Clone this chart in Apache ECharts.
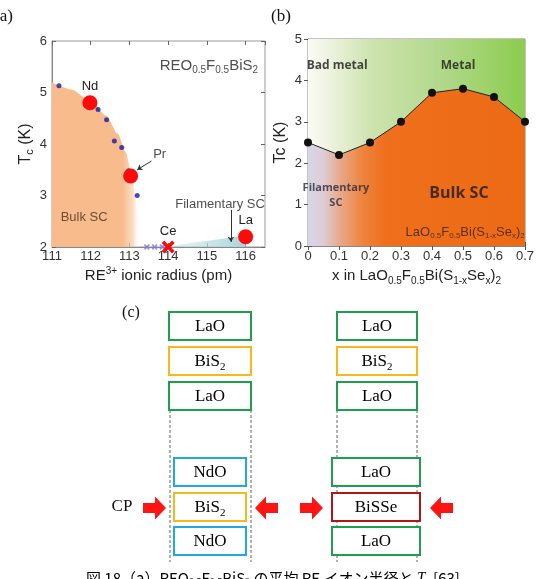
<!DOCTYPE html>
<html><head><meta charset="utf-8">
<script src="https://cdn.jsdelivr.net/npm/echarts@6/dist/echarts.min.js"></script>
<style>html,body{margin:0;padding:0;background:#fff;}#c{width:540px;height:579px;}</style>
</head><body><div id="c"></div>
<script>
// ---------- Panel (a) data ----------
const aXTicks = [111, 112, 113, 114, 115, 116];
const aYTicks = [2, 3, 4, 5, 6];
const aBlueX = [111.18, 112.19, 112.41, 112.61, 112.8, 112.98, 113.2];
const aBlueY = [5.13, 4.67, 4.47, 4.06, 3.93, 3.48, 3.0];
const aRedNames = ['Nd', 'Pr', 'La'];
const aRedX = [111.98, 113.03, 116.0];
const aRedY = [4.8, 3.38, 2.2];
const aCeX = [114.0];
const aCeY = [2.0];
const aNonSCX = [113.45, 113.65, 113.85];
const aNonSCY = [2.0, 2.0, 2.0];
const aBulkEdgeX = [111, 111.5, 112, 112.4, 112.7, 112.9, 113.05, 113.15, 113.22, 113.28];
const aBulkEdgeY = [5.2, 5.06, 4.83, 4.55, 4.2, 3.85, 3.45, 3.0, 2.5, 2.0];
const aFilX = [113.8, 116.0];
const aFilY = [2.0, 2.22];

// ---------- Panel (b) data ----------
const bX = [0, 0.1, 0.2, 0.3, 0.4, 0.5, 0.6, 0.7];
const bTc = [2.5, 2.2, 2.5, 3.0, 3.7, 3.8, 3.6, 3.0];

// ---------- Panel (c) layers ----------
const cLeftTop = ['LaO', 'BiS2', 'LaO'];
const cLeftBottom = ['NdO', 'BiS2', 'NdO'];
const cRightTop = ['LaO', 'BiS2', 'LaO'];
const cRightBottom = ['LaO', 'BiSSe', 'LaO'];

const SANS = '"Liberation Sans", Arial, sans-serif';
const SERIF = '"Liberation Serif", "Times New Roman", serif';
const BOLD = '"Open Sans", "Noto Sans", sans-serif';

function richFor(color, size) {
  return {
    sub: { fontSize: Math.round(size * 0.65), padding: [size * 0.6, 0, 0, 0], fontFamily: SANS, color: color },
    sup: { fontSize: Math.round(size * 0.65), padding: [0, 0, size * 0.6, 0], fontFamily: SANS, color: color }
  };
}

function textSeries(xi, yi, items) {
  return {
    type: 'scatter', xAxisIndex: xi, yAxisIndex: yi, symbolSize: 1, silent: true, z: 20,
    itemStyle: { color: 'transparent' },
    data: items.map(it => ({
      value: [it.x, it.y],
      label: {
        show: true, position: 'inside', formatter: it.t,
        fontSize: it.size || 13, fontFamily: it.font || SANS, fontWeight: it.weight || 'normal',
        color: it.color || '#222', lineHeight: it.lh || undefined,
        rich: richFor(it.color || '#222', it.size || 13)
      }
    }))
  };
}

const axisLbl = { color: '#333', fontSize: 13, fontFamily: SANS };

const option = {
  animation: false,
  backgroundColor: '#fff',
  grid: [
    { left: 52, top: 41, width: 213, height: 206, show: true, borderColor: '#999', borderWidth: 1, backgroundColor: 'transparent' },
    { left: 308, top: 39, width: 217, height: 207, show: true, borderColor: '#888', borderWidth: 1, backgroundColor: 'transparent' }
  ],
  xAxis: [
    { gridIndex: 0, type: 'value', min: 111, max: 116.5, interval: 1,
      axisLine: { lineStyle: { color: '#888' } },
      axisTick: { inside: true, length: 4, lineStyle: { color: '#666' } },
      axisLabel: Object.assign({ margin: 3, showMaxLabel: false, formatter: v => aXTicks.includes(v) ? String(v) : '' }, axisLbl),
      splitLine: { show: false },
      name: '{n|RE}{sup|3+}{n| ionic radius (pm)}', nameLocation: 'middle', nameGap: 19,
      nameTextStyle: { fontSize: 15, fontFamily: SANS, color: '#222',
        rich: { n: { fontSize: 15, fontFamily: SANS, color: '#222' }, sup: { fontSize: 10, fontFamily: SANS, color: '#222', padding: [0, 0, 9, 0] } } } },
    { gridIndex: 0, type: 'value', position: 'top', min: 111, max: 116.5, interval: 1,
      axisLine: { show: false }, axisTick: { inside: true, length: 4, lineStyle: { color: '#666' } },
      axisLabel: { show: false }, splitLine: { show: false } },
    { gridIndex: 1, type: 'value', min: 0, max: 0.7, interval: 0.1,
      axisLine: { lineStyle: { color: '#888' } },
      axisTick: { inside: true, length: 4, lineStyle: { color: '#555' } },
      axisLabel: Object.assign({ margin: 4, formatter: v => (Math.round(v * 10) / 10).toString() }, axisLbl),
      splitLine: { show: false },
      name: '{n|x in LaO}{sub|0.5}{n|F}{sub|0.5}{n|Bi(S}{sub|1-x}{n|Se}{sub|x}{n|)}{sub|2}', nameLocation: 'middle', nameGap: 20,
      nameTextStyle: { fontSize: 15, fontFamily: SANS, color: '#222',
        rich: { n: { fontSize: 15, fontFamily: SANS, color: '#222' }, sub: { fontSize: 10, fontFamily: SANS, color: '#222', padding: [10, 0, 0, 0] } } } },
    { gridIndex: 1, type: 'value', position: 'top', min: 0, max: 0.7, interval: 0.1,
      axisLine: { show: false }, axisTick: { inside: true, length: 4, lineStyle: { color: '#555' } },
      axisLabel: { show: false }, splitLine: { show: false } }
  ],
  yAxis: [
    { gridIndex: 0, type: 'value', min: 2, max: 6, interval: 1,
      axisLine: { lineStyle: { color: '#888' } },
      axisTick: { inside: true, length: 4, lineStyle: { color: '#666' } },
      axisLabel: Object.assign({ margin: 5 }, axisLbl), splitLine: { show: false },
      name: '{n|T}{sub|c}{n| (K)}', nameLocation: 'middle', nameGap: 16, nameRotate: 90,
      nameTextStyle: { fontSize: 16, fontFamily: SANS, color: '#222',
        rich: { n: { fontSize: 16, fontFamily: SANS, color: '#222' }, sub: { fontSize: 11, fontFamily: SANS, color: '#222', padding: [9, 0, 0, 0] } } } },
    { gridIndex: 0, type: 'value', position: 'right', min: 2, max: 6, interval: 1,
      axisLine: { show: false }, axisTick: { inside: true, length: 4, lineStyle: { color: '#666' } },
      axisLabel: { show: false }, splitLine: { show: false } },
    { gridIndex: 1, type: 'value', min: 0, max: 5, interval: 1,
      axisLine: { lineStyle: { color: '#888' } },
      axisTick: { inside: true, length: 4, lineStyle: { color: '#555' } },
      axisLabel: Object.assign({ margin: 6 }, axisLbl), splitLine: { show: false },
      name: 'Tc (K)', nameLocation: 'middle', nameGap: 19, nameRotate: 90,
      nameTextStyle: { fontSize: 16, fontFamily: SANS, color: '#222' } },
    { gridIndex: 1, type: 'value', position: 'right', min: 0, max: 5, interval: 1,
      axisLine: { show: false }, axisTick: { inside: true, length: 4, lineStyle: { color: '#555' } },
      axisLabel: { show: false }, splitLine: { show: false } }
  ],
  series: [
    // ----- (a) bulk SC region -----
    { type: 'line', xAxisIndex: 0, yAxisIndex: 0, silent: true, z: 1,
      data: aBulkEdgeX.map((x, i) => [x, aBulkEdgeY[i]]),
      smooth: 0.25, smoothMonotone: 'x', symbol: 'none', lineStyle: { width: 0 },
      areaStyle: { opacity: 1, color: new echarts.graphic.LinearGradient(0, 0, 1, 0, [
        { offset: 0, color: '#f8bb8c' }, { offset: 0.8, color: '#f8bb8c' },
        { offset: 0.92, color: 'rgba(248,200,160,0.6)' }, { offset: 1, color: 'rgba(255,255,255,0)' }]) } },
    // ----- (a) filamentary SC region -----
    { type: 'line', xAxisIndex: 0, yAxisIndex: 0, silent: true, z: 1,
      data: aFilX.map((x, i) => [x, aFilY[i]]),
      symbol: 'none', lineStyle: { width: 0 },
      areaStyle: { opacity: 1, color: new echarts.graphic.LinearGradient(0, 0, 1, 0, [
        { offset: 0, color: 'rgba(200,228,232,0.3)' }, { offset: 1, color: '#a8d5da' }]) } },
    // ----- (a) non-SC crosses -----
    { type: 'scatter', xAxisIndex: 0, yAxisIndex: 0, z: 5,
      data: aNonSCX.map((x, i) => [x, aNonSCY[i]]),
      symbol: 'path://M0,2L2,0L5,3L8,0L10,2L7,5L10,8L8,10L5,7L2,10L0,8L3,5Z', symbolSize: 6,
      itemStyle: { color: '#7a7ae6' } },
    // ----- (a) blue points -----
    { type: 'scatter', xAxisIndex: 0, yAxisIndex: 0, z: 5,
      data: aBlueX.map((x, i) => [x, aBlueY[i]]),
      symbol: 'circle', symbolSize: 5, itemStyle: { color: '#1a1aa8' } },
    // ----- (a) red circles -----
    { type: 'scatter', xAxisIndex: 0, yAxisIndex: 0, z: 6,
      data: aRedX.map((x, i) => ({ value: [x, aRedY[i]], name: aRedNames[i] })),
      symbol: 'circle', symbolSize: 15, itemStyle: { color: '#ff0a0a', opacity: 1 },
      label: { show: true, position: 'top', distance: 2, fontSize: 13, fontFamily: SANS, color: '#222',
        formatter: p => p.name === 'Pr' ? '' : p.name } },
    // ----- (a) Ce cross -----
    { type: 'scatter', xAxisIndex: 0, yAxisIndex: 0, z: 7,
      data: aCeX.map((x, i) => ({ value: [x, aCeY[i]], name: 'Ce' })),
      symbol: 'path://M0,2L2,0L5,3L8,0L10,2L7,5L10,8L8,10L5,7L2,10L0,8L3,5Z', symbolSize: 13,
      itemStyle: { color: '#ee1111', opacity: 1 },
      label: { show: true, position: 'top', distance: 3, fontSize: 13, fontFamily: SANS, color: '#222', formatter: '{b}' } },
    // ----- (a) annotation arrows -----
    { type: 'lines', coordinateSystem: 'cartesian2d', xAxisIndex: 0, yAxisIndex: 0, z: 8, silent: true,
      symbol: ['none', 'arrow'], symbolSize: 5,
      lineStyle: { color: '#333', width: 1, opacity: 1 },
      data: [ { coords: [[113.57, 3.67], [113.2, 3.5]] }, { coords: [[115.62, 2.72], [115.62, 2.1]] } ] },
    textSeries(0, 0, [
      { x: 113.78, y: 3.79, t: 'Pr' },
      { x: 115.34, y: 2.83, t: 'Filamentary SC' },
      { x: 111.83, y: 2.58, t: 'Bulk SC', color: '#4a3020' },
      { x: 115.05, y: 5.52, t: 'REO{sub|0.5}F{sub|0.5}BiS{sub|2}', size: 15 }
    ]),
    // ----- (b) metal background -----
    { type: 'line', xAxisIndex: 2, yAxisIndex: 2, silent: true, z: 1,
      data: [[bX[0], 5], [bX[bX.length - 1], 5]], symbol: 'none', lineStyle: { width: 0 },
      areaStyle: { opacity: 1, color: new echarts.graphic.LinearGradient(0, 0, 1, 0, [
        { offset: 0, color: '#fbfbf5' }, { offset: 0.08, color: '#f0f4e4' },
        { offset: 0.3, color: '#cde3ad' }, { offset: 0.6, color: '#b3d98d' }, { offset: 1, color: '#8ccc4e' }]) } },
    // ----- (b) Tc curve and SC region -----
    { type: 'line', xAxisIndex: 2, yAxisIndex: 2, z: 3,
      data: bX.map((x, i) => [x, bTc[i]]),
      symbol: 'circle', symbolSize: 8, itemStyle: { color: '#111' },
      lineStyle: { color: '#222', width: 1 },
      areaStyle: { opacity: 1, color: new echarts.graphic.LinearGradient(0, 0, 1, 0, [
        { offset: 0, color: '#d6d7e6' }, { offset: 0.07, color: '#ddcdd6' },
        { offset: 0.15, color: '#e8a888' }, { offset: 0.25, color: '#ee843e' },
        { offset: 0.36, color: '#ef6f1c' }, { offset: 1, color: '#ec6a14' }]) } },
    textSeries(2, 2, [
      { x: 0.094, y: 4.37, t: 'Bad metal', font: BOLD, weight: 'bold', size: 12, color: '#1a1a1a' },
      { x: 0.484, y: 4.37, t: 'Metal', font: BOLD, weight: 'bold', size: 12, color: '#1a1a1a' },
      { x: 0.09, y: 1.22, t: 'Filamentary\nSC', font: BOLD, weight: 'bold', size: 11, color: '#2a2a3a', lh: 15 },
      { x: 0.487, y: 1.26, t: 'Bulk SC', font: BOLD, weight: 'bold', size: 16, color: '#1a1a1a' },
      { x: 0.507, y: 0.34, t: 'LaO{sub|0.5}F{sub|0.5}Bi(S{sub|1-x}Se{sub|x})' + '{sub|2}', size: 13, color: '#3a1e0a' }
    ])
  ],
  graphic: []
};

// ---------- Panel (c) diagram (graphic elements) ----------
const COL = { LaO: '#1f9e50', BiS2: '#f7b71e', NdO: '#1fa9e0', BiSSe: '#b01616' };
function layerText(name) {
  if (name === 'BiS2') return '{n|BiS}{s|2}';
  return '{n|' + name + '}';
}
const cRich = {
  n: { fontSize: 17, fontFamily: SERIF, color: '#111' },
  s: { fontSize: 11, fontFamily: SERIF, color: '#111', padding: [10, 0, 0, 0] }
};
const g = option.graphic;
function addStack(names, left, width, tops, h) {
  names.forEach((nm, i) => {
    g.push({ type: 'rect', shape: { x: left, y: tops[i], width: width, height: h },
      style: { fill: '#fff', stroke: COL[nm], lineWidth: 2 }, z: 10 });
    g.push({ type: 'text', x: left + width / 2, y: tops[i] + h / 2 + 1, z: 11,
      style: { text: layerText(nm), rich: cRich, align: 'center', verticalAlign: 'middle' } });
  });
}
const topRows = [312, 347, 382];
const botRows = [458, 493, 527];
// dashed guide lines
[170, 251, 337, 417].forEach(x => {
  g.push({ type: 'line', shape: { x1: x, y1: 410, x2: x, y2: 562 }, z: 9,
    style: { stroke: '#666', lineWidth: 1, lineDash: [3, 2] } });
});
addStack(cLeftTop, 169, 82, topRows, 28);
addStack(cLeftBottom, 174, 72, botRows, 28);
addStack(cRightTop, 337, 80, topRows, 28);
addStack(cRightBottom, 332, 88, botRows, 28);
function arrow(tipX, dir, cy) {
  const L = 23, head = 11, sh = 5, hh = 11.5;
  const tail = tipX - dir * L, neck = tipX - dir * head;
  g.push({ type: 'polygon', z: 12, shape: { points: [
    [tail, cy - sh], [neck, cy - sh], [neck, cy - hh], [tipX, cy], [neck, cy + hh], [neck, cy + sh], [tail, cy + sh]] },
    style: { fill: '#ff1414' } });
}
arrow(166, 1, 508);
arrow(255, -1, 508);
arrow(323, 1, 508);
arrow(430, -1, 508);
g.push({ type: 'text', x: 122, y: 507, style: { text: 'CP', font: '17px ' + SERIF, fill: '#111', align: 'center', verticalAlign: 'middle' } });
g.push({ type: 'text', x: 131, y: 313, style: { text: '(c)', font: '16px ' + SERIF, fill: '#111', align: 'center', verticalAlign: 'middle' } });
g.push({ type: 'text', x: -6, y: 17, style: { text: '(a)', font: '17px ' + SERIF, fill: '#111', align: 'left', verticalAlign: 'middle' } });
g.push({ type: 'text', x: 281, y: 17, style: { text: '(b)', font: '17px ' + SERIF, fill: '#111', align: 'center', verticalAlign: 'middle' } });
// caption (cut at the bottom like the reference)
g.push({ type: 'text', x: 275, y: 569, style: {
  text: '{n|図 18（a）REO}{s|0.5}{n|F}{s|0.5}{n|BiS}{s|2}{n| の平均 RE イオン半径と }{i|T}{s|c}{n| [63].}',
  align: 'center', verticalAlign: 'top',
  rich: {
    n: { fontSize: 15, fontFamily: '"Noto Sans CJK JP", sans-serif', color: '#222' },
    i: { fontSize: 15, fontFamily: SERIF, fontStyle: 'italic', color: '#222' },
    s: { fontSize: 10, fontFamily: SERIF, color: '#222', padding: [8, 0, 0, 0] }
  } } });

const chart = echarts.init(document.getElementById('c'), null, { renderer: 'canvas' });
chart.setOption(option);
</script>
</body></html>
